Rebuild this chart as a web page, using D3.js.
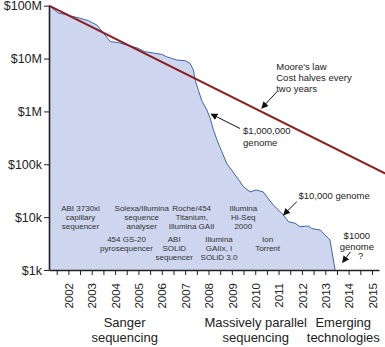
<!DOCTYPE html>
<html><head><meta charset="utf-8">
<script src="https://cdn.jsdelivr.net/npm/d3@7"></script>
<style>
html,body{margin:0;padding:0;background:#fff;}
svg{display:block;font-family:"Liberation Sans", Arial, Helvetica, sans-serif;}
</style></head><body>
<svg id="chart" width="385" height="347"></svg>
<script>
// Cost per genome (USD) over time
const costYears = [2001.19, 2001.56, 2001.93, 2002.50, 2002.86, 2003.22, 2003.50, 2003.79, 2004.14, 2004.64,
  2004.93, 2005.28, 2006.00, 2006.21, 2006.64, 2007.00, 2007.21, 2007.35, 2007.43, 2007.57,
  2007.71, 2007.93, 2008.07, 2008.21, 2008.36, 2008.57, 2008.78, 2009.14, 2009.49, 2009.78,
  2010.04, 2010.34, 2010.77, 2011.21, 2011.42, 2011.71, 2011.92, 2012.28, 2012.42, 2012.78,
  2013.20, 2013.42];
const costValues = [1e8, 7.3e7, 6.7e7, 5.8e7, 5.2e7, 4.3e7, 3.05e7, 2.1e7, 2.0e7, 1.73e7,
  1.6e7, 1.35e7, 1.2e7, 1.08e7, 9.4e6, 9.1e6, 8.1e6, 6.1e6, 3.9e6, 2.5e6,
  1.6e6, 1.06e6, 7.4e5, 4.5e5, 2.9e5, 1.73e5, 1.04e5, 6.3e4, 3.8e4, 3.0e4,
  3.26e4, 3.0e4, 1.7e4, 1.1e4, 8.2e3, 7.65e3, 6.6e3, 6.8e3, 6.1e3, 5.7e3,
  3.7e3, 1.0e3];

// Moore's law reference line
const mooreYears = [2001.17, 2015.6];
const mooreValues = [1e8, 6.6e4];

// Axes
const yTickValues = [1e3, 1e4, 1e5, 1e6, 1e7, 1e8];
const yTickLabels = ["$1k", "$10k", "$100k", "$1M", "$10M", "$100M"];
const yearTicks = d3.range(2001.5, 2015.01, 0.5);

// Sequencing platforms
const platformLabels = [
  ["ABI 3730xl", "capillary", "sequencer"],
  ["Solexa/Illumina", "sequence", "analyser"],
  ["Roche/454", "Titanium,", "Illumina GAII"],
  ["Illumina", "Hi-Seq", "2000"],
  ["454 GS-20", "pyrosequencer"],
  ["ABI", "SOLiD", "sequencer"],
  ["Illumina", "GAIIx, I", "SOLiD 3.0"],
  ["Ion", "Torrent"]
];
const platformYears = [2002.52, 2005.14, 2007.28, 2009.49, 2004.49, 2006.53, 2008.45, 2010.53];
const platformCosts = [1.3e4, 1.3e4, 1.3e4, 1.3e4, 3.4e3, 3.4e3, 3.4e3, 3.4e3];

// Eras along the bottom
const eraLabels = [["Sanger", "sequencing"], ["Massively parallel", "sequencing"], ["Emerging", "technologies"]];
const eraYears = [2004.41, 2010.02, 2013.77];

// Annotations: text lines, anchor point, arrow tail and head
const noteLabels = [["Moore's law", "Cost halves every", "two years"], ["$1,000,000", "genome"], ["$10,000 genome"], ["$1000", "genome"]];
const noteYears = [2010.9, 2009.48, 2011.85, 2014.35];
const noteCosts = [6.1e6, 3.66e5, 2.25e4, 3.94e3];
const noteAnchors = ["start", "start", "start", "middle"];
const arrowFromYears = [2010.93, 2009.35, 2011.78, 2014.07];
const arrowFromCosts = [2.36e6, 4.75e5, 1.96e4, 2.19e3];
const arrowToYears = [2010.28, 2008.11, 2011.21, 2013.74];
const arrowToCosts = [1.15e6, 8.93e5, 1.1e4, 1.39e3];
const questionYear = 2014.4, questionCost = 1.58e3;

const svg = d3.select("#chart");
const x = d3.scaleLinear().domain([2001.17, 2015.3]).range([49, 379]);
const y = d3.scaleLog().domain([1e3, 1e8]).range([270, 5.7]);

const costData = costYears.map((t, i) => [t, costValues[i]]);

// filled area under the cost curve
svg.append("path")
  .datum(costData)
  .attr("fill", "#cdd6ee")
  .attr("d", d3.area().x(d => x(d[0])).y0(y(1e3)).y1(d => y(d[1])));

svg.append("path")
  .datum(costData)
  .attr("fill", "none")
  .attr("stroke", "#3f66a8")
  .attr("stroke-width", 1)
  .attr("d", d3.line().x(d => x(d[0])).y(d => y(d[1])));

// Moore's law line
svg.append("path")
  .datum(mooreYears.map((t, i) => [t, mooreValues[i]]))
  .attr("fill", "none")
  .attr("stroke", "#8a1c1e")
  .attr("stroke-width", 2)
  .attr("d", d3.line().x(d => x(d[0])).y(d => y(d[1])));

// y axis
const yAxis = svg.append("g")
  .attr("transform", `translate(${x(2001.17)},0)`)
  .call(d3.axisLeft(y).tickValues(yTickValues)
    .tickFormat((d, i) => yTickLabels[i]).tickSize(5).tickSizeOuter(0).tickPadding(2));
yAxis.select(".domain").attr("stroke", "#222").attr("stroke-width", 1.6);
yAxis.selectAll(".tick line").attr("stroke", "#222");
yAxis.selectAll("text").attr("font-size", 12.5).attr("fill", "#222")
  .attr("font-family", "'Liberation Sans', Arial, sans-serif");

// x axis
const xAxis = svg.append("g")
  .attr("transform", `translate(0,${y(1e3)})`)
  .call(d3.axisBottom(x).tickValues(yearTicks)
    .tickFormat(d => Number.isInteger(d) ? String(d) : "").tickSize(5).tickSizeOuter(0));
xAxis.select(".domain").attr("stroke", "#222").attr("stroke-width", 1.3);
xAxis.selectAll(".tick line").attr("stroke", "#222");
xAxis.selectAll("text")
  .attr("transform", "rotate(-90)")
  .attr("text-anchor", "end")
  .attr("x", -13).attr("y", 0).attr("dy", "0.36em")
  .attr("font-size", 11.5).attr("fill", "#222")
  .attr("font-family", "'Liberation Sans', Arial, sans-serif");

// platform labels inside the area
platformLabels.forEach((lines, i) => {
  const t = svg.append("text")
    .attr("x", x(platformYears[i])).attr("y", y(platformCosts[i]))
    .attr("text-anchor", "middle").attr("font-size", 8).attr("fill", "#333");
  lines.forEach((s, j) => t.append("tspan").attr("x", x(platformYears[i])).attr("dy", j ? 9 : 0).text(s));
});

// era labels under the axis
eraLabels.forEach((lines, i) => {
  const t = svg.append("text")
    .attr("x", x(eraYears[i])).attr("y", 327)
    .attr("text-anchor", "middle").attr("font-size", 13).attr("fill", "#222");
  lines.forEach((s, j) => t.append("tspan").attr("x", x(eraYears[i])).attr("dy", j ? 15 : 0).text(s));
});

// arrow marker
svg.append("defs").append("marker")
  .attr("id", "head").attr("viewBox", "0 0 10 10").attr("refX", 9).attr("refY", 5)
  .attr("markerWidth", 7).attr("markerHeight", 7).attr("markerUnits", "userSpaceOnUse")
  .attr("orient", "auto")
  .append("path").attr("d", "M0,0 L10,5 L0,10 z").attr("fill", "#111");

noteLabels.forEach((lines, i) => {
  const t = svg.append("text")
    .attr("x", x(noteYears[i])).attr("y", y(noteCosts[i]))
    .attr("text-anchor", noteAnchors[i]).attr("font-size", 9.5).attr("fill", "#222");
  lines.forEach((s, j) => t.append("tspan").attr("x", x(noteYears[i])).attr("dy", j ? 11.2 : 0).text(s));
  svg.append("line")
    .attr("x1", x(arrowFromYears[i])).attr("y1", y(arrowFromCosts[i]))
    .attr("x2", x(arrowToYears[i])).attr("y2", y(arrowToCosts[i]))
    .attr("stroke", "#111").attr("stroke-width", 1)
    .attr("marker-end", "url(#head)");
});

svg.append("text")
  .attr("x", x(questionYear)).attr("y", y(questionCost))
  .attr("font-size", 9.5).attr("fill", "#222").text("?");
</script>
</body></html>
